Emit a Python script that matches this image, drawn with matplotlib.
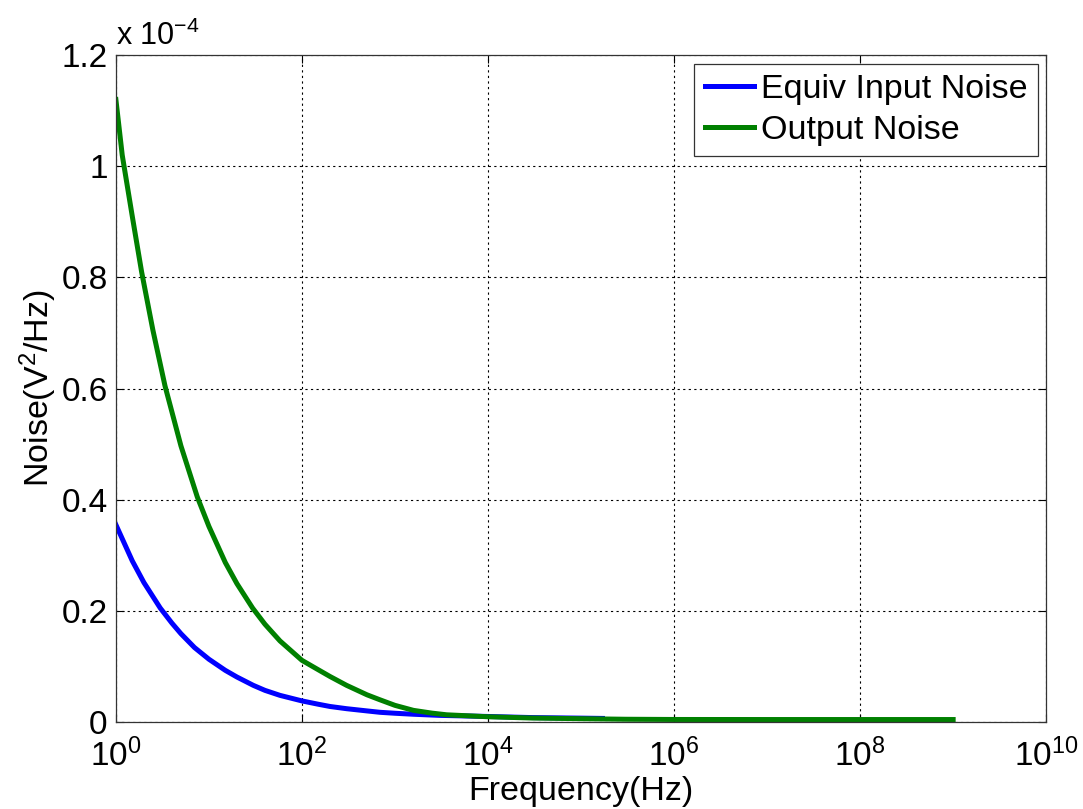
import matplotlib
matplotlib.use("Agg")
import matplotlib.pyplot as plt
from matplotlib.ticker import FixedLocator, FuncFormatter, NullLocator

plt.rcParams["font.family"] = ["Liberation Sans", "DejaVu Sans"]
plt.rcParams["mathtext.fontset"] = "custom"
plt.rcParams["mathtext.rm"] = "Liberation Sans"
plt.rcParams["mathtext.it"] = "Liberation Sans"

# values, noise in units of 1e-4 V^2/Hz
freq_in = [1, 1.5, 2, 3, 4, 5, 7, 10, 15, 20, 30, 40, 58, 100, 150, 200,
           302, 500, 690, 1e3, 1.58e3, 3e3, 1e4, 3e4, 1e5, 1.7e5]
noise_in = [0.355, 0.290, 0.251, 0.205, 0.178, 0.159, 0.134, 0.113, 0.093,
            0.081, 0.066, 0.057, 0.048, 0.038, 0.032, 0.028, 0.024, 0.020,
            0.0175, 0.0158, 0.014, 0.012, 0.010, 0.008, 0.007, 0.0065]

freq_out = [1, 1.17, 1.5, 1.89, 2.5, 3.37, 5, 7.5, 10, 15, 20, 29.5, 40, 58,
            100, 150, 200, 302, 500, 690, 1e3, 1.58e3, 2.5e3, 3.6e3, 1e4,
            3e4, 1e5, 3e5, 1e6, 1e7, 1e8, 1e9]
noise_out = [1.12, 1.02, 0.91, 0.81, 0.705, 0.605, 0.497, 0.405, 0.352, 0.287,
             0.249, 0.205, 0.176, 0.146, 0.111, 0.094, 0.082, 0.066, 0.049,
             0.040, 0.030, 0.021, 0.016, 0.013, 0.0095, 0.0072, 0.006, 0.005,
             0.0046, 0.0045, 0.0045, 0.0045]

xticks = [1e0, 1e2, 1e4, 1e6, 1e8, 1e10]
yticks = [0, 0.2, 0.4, 0.6, 0.8, 1.0, 1.2]

fig = plt.figure(figsize=(10.83, 8.09), dpi=100)
ax = fig.add_axes([0.107, 0.1075, 0.859, 0.8245])

ax.plot(freq_in, noise_in, color="#0000ff", lw=3.6, label="Equiv Input Noise")
ax.plot(freq_out, noise_out, color="#008000", lw=3.6, label="Output Noise")

ax.set_xscale("log")
ax.set_xlim(1, 1e10)
ax.set_ylim(0, 1.2)
ax.xaxis.set_major_locator(FixedLocator(xticks))
ax.xaxis.set_minor_locator(NullLocator())
ax.yaxis.set_major_locator(FixedLocator(yticks))
ax.yaxis.set_major_formatter(FuncFormatter(lambda v, p: "%g" % v))

ax.grid(True, color="k", linestyle=(0, (2, 3)), linewidth=0.8)
ax.tick_params(direction="in", length=6, width=0.8, top=True, right=True,
               labelsize=24, colors="k")
ax.tick_params(axis="x", pad=12)
ax.tick_params(axis="y", pad=6)
for s in ax.spines.values():
    s.set_color("#333333")
    s.set_linewidth(0.9)

ax.set_xlabel("Frequency(Hz)", fontsize=24.5, labelpad=2)
ax.set_ylabel("Noise(V$^2$/Hz)", fontsize=24.5, labelpad=2)
ax.text(0.0, 1.005, "x 10$^{-4}$", transform=ax.transAxes, fontsize=22,
        ha="left", va="bottom")

leg = ax.legend(loc="upper right", fontsize=24.5, handlelength=1.45,
                handletextpad=0.2, borderaxespad=0.25, fancybox=False,
                framealpha=1, edgecolor="#333333", borderpad=0.3,
                labelspacing=0.3)
leg.get_frame().set_linewidth(0.9)

fig.savefig("out.png", dpi=100)
